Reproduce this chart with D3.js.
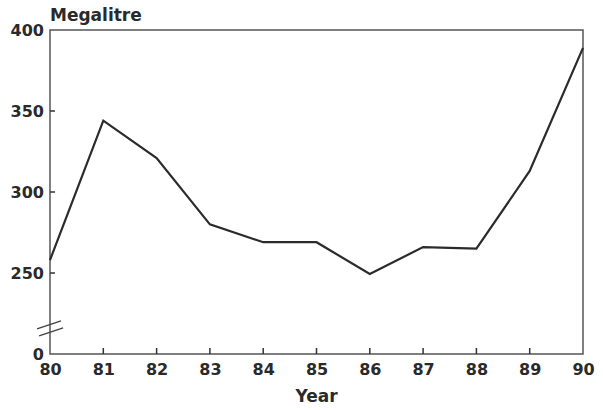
<!DOCTYPE html>
<html>
<head>
<meta charset="utf-8">
<script src="https://cdn.jsdelivr.net/npm/d3@7"></script>
<style>
  body { margin: 0; background: #fff; }
  text { font-family: "DejaVu Sans", sans-serif; font-weight: bold; fill: #2a2a2a; }
</style>
</head>
<body>
<svg id="canvas" width="603" height="410"></svg>
<script>
// yearly values
const years = [80, 81, 82, 83, 84, 85, 86, 87, 88, 89, 90];
const megalitres = [258, 344, 321, 280, 269, 269, 247, 266, 265, 313, 389];
const yTicks = [0, 250, 300, 350, 400];

let canvas = d3.select("#canvas");

let plotLeft = 50, plotRight = 583, plotTop = 30, plotBottom = 354;

let xScale = d3.scaleLinear().domain([80, 90]).range([plotLeft, plotRight]);
// broken axis: 0..250 squeezed into one step
let yScale = d3.scaleLinear().domain([0, 250, 400]).range([plotBottom, 273, plotTop]);

// frame
canvas.append("rect")
    .attr("x", plotLeft)
    .attr("y", plotTop)
    .attr("width", plotRight - plotLeft)
    .attr("height", plotBottom - plotTop)
    .attr("fill", "none")
    .attr("stroke", "#555")
    .attr("stroke-width", 1.5);

// x axis labels (axis generator), ticks drawn by hand pointing inward
let xAxis = d3.axisBottom(xScale)
    .tickValues(years)
    .tickSize(0)
    .tickPadding(10);
let gx = canvas.append("g")
    .attr("transform", "translate(0," + plotBottom + ")")
    .call(xAxis);
gx.select(".domain").remove();
gx.selectAll("text").attr("font-size", 16).attr("fill", "#2a2a2a").attr("font-family", "DejaVu Sans");

canvas.append("g")
    .selectAll("line")
    .data(years.slice(1, -1))
    .enter()
    .append("line")
    .attr("x1", (d) => xScale(d))
    .attr("x2", (d) => xScale(d))
    .attr("y1", plotBottom)
    .attr("y2", plotBottom - 6)
    .attr("stroke", "#333")
    .attr("stroke-width", 1.5);

// y axis
let yAxis = d3.axisLeft(yScale)
    .tickValues(yTicks)
    .tickSize(0)
    .tickPadding(6);
let gy = canvas.append("g")
    .attr("transform", "translate(" + plotLeft + ",0)")
    .call(yAxis);
gy.select(".domain").remove();
gy.selectAll("text").attr("font-size", 16).attr("fill", "#2a2a2a").attr("font-family", "DejaVu Sans");

canvas.append("g")
    .selectAll("line")
    .data(yTicks.slice(1, -1))
    .enter()
    .append("line")
    .attr("x1", plotLeft)
    .attr("x2", plotLeft + 5)
    .attr("y1", (d) => yScale(d))
    .attr("y2", (d) => yScale(d))
    .attr("stroke", "#333")
    .attr("stroke-width", 1.5);

// axis break marks
let by = yScale(90);
[0, 7].forEach((off) => {
    canvas.append("line")
        .attr("x1", plotLeft - 13 + off * 0.3)
        .attr("y1", by + 4 + off)
        .attr("x2", plotLeft + 11 + off * 0.3)
        .attr("y2", by - 4 + off)
        .attr("stroke", "#444")
        .attr("stroke-width", 1.5);
});

// the series
let line = d3.line()
    .x((d, i) => xScale(years[i]))
    .y((d) => yScale(d));

canvas.append("path")
    .datum(megalitres)
    .attr("d", line)
    .attr("fill", "none")
    .attr("stroke", "#2b2b2b")
    .attr("stroke-width", 2.2)
    .attr("stroke-linejoin", "miter");

// titles
canvas.append("text")
    .attr("x", plotLeft)
    .attr("y", 21)
    .attr("font-size", 17)
    .text("Megalitre");

canvas.append("text")
    .attr("x", (plotLeft + plotRight) / 2)
    .attr("y", 402)
    .attr("text-anchor", "middle")
    .attr("font-size", 17)
    .text("Year");
</script>
</body>
</html>
